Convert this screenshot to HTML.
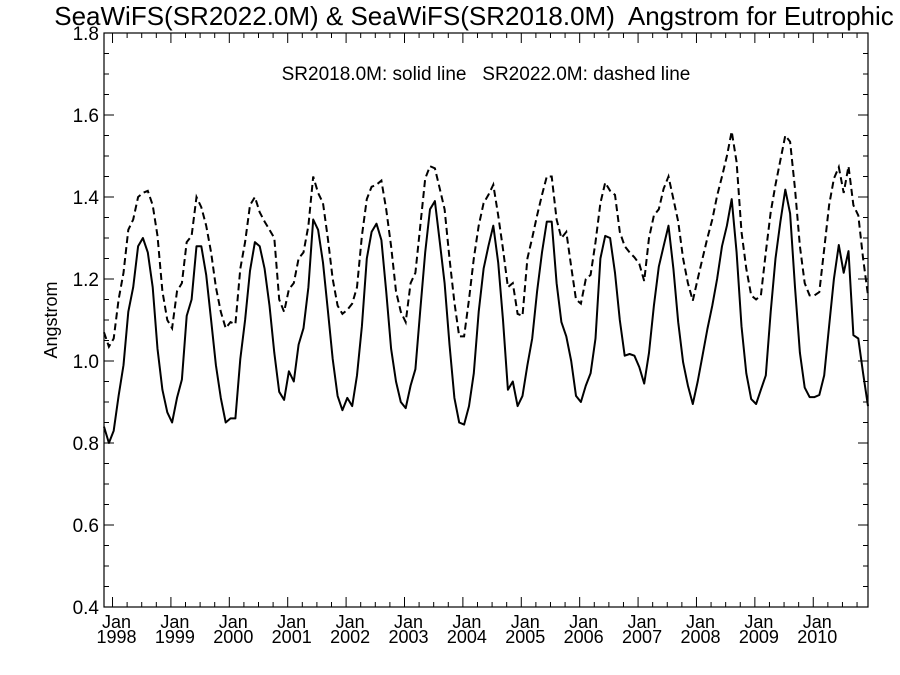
<!DOCTYPE html>
<html><head><meta charset="utf-8"><style>
html,body{margin:0;padding:0;background:#fff;}
svg{display:block;font-family:"Liberation Sans",Arial,sans-serif;}
text{white-space:pre;}
</style></head><body>
<svg id="chart" width="900" height="675" viewBox="0 0 900 675" xmlns="http://www.w3.org/2000/svg" xml:space="preserve">
<rect width="900" height="675" fill="#fff"/>
<text x="474" y="25" text-anchor="middle" font-size="26" xml:space="preserve">SeaWiFS(SR2022.0M) &amp; SeaWiFS(SR2018.0M)  Angstrom for Eutrophic</text>
<text x="486" y="80" text-anchor="middle" font-size="19" xml:space="preserve">SR2018.0M: solid line   SR2022.0M: dashed line</text>
<text x="0" y="0" transform="translate(57,320) rotate(-90)" text-anchor="middle" font-size="18">Angstrom</text>
<rect x="104" y="33" width="764" height="574" fill="none" stroke="#000" stroke-width="1.2"/>
<g id="axes"></g>
<g id="series"></g>
</svg>
<script>
const years = [1998,1999,2000,2001,2002,2003,2004,2005,2006,2007,2008,2009,2010];
const yTicks = [0.4,0.6,0.8,1.0,1.2,1.4,1.6,1.8];
const yTickLabels = ["0.4","0.6","0.8","1.0","1.2","1.4","1.6","1.8"];
const sr2018 = [0.84,0.80,0.83,0.915,0.99,1.12,1.18,1.28,1.30,1.265,1.18,1.03,0.93,0.875,0.85,0.91,0.955,1.11,1.15,1.28,1.28,1.21,1.10,0.99,0.91,0.85,0.86,0.86,1.005,1.10,1.22,1.29,1.28,1.225,1.135,1.02,0.925,0.905,0.975,0.95,1.04,1.08,1.18,1.345,1.32,1.24,1.125,1.005,0.915,0.88,0.91,0.89,0.965,1.085,1.25,1.315,1.335,1.295,1.17,1.03,0.95,0.90,0.885,0.94,0.98,1.125,1.265,1.37,1.39,1.29,1.19,1.04,0.91,0.85,0.845,0.89,0.97,1.12,1.225,1.28,1.33,1.24,1.10,0.93,0.95,0.89,0.915,0.99,1.055,1.17,1.265,1.34,1.34,1.19,1.095,1.06,1.0,0.915,0.90,0.94,0.97,1.055,1.25,1.305,1.30,1.215,1.10,1.013,1.017,1.013,0.985,0.945,1.02,1.135,1.23,1.28,1.33,1.225,1.095,0.997,0.94,0.895,0.95,1.013,1.078,1.135,1.20,1.28,1.33,1.395,1.265,1.085,0.97,0.907,0.895,0.93,0.965,1.12,1.25,1.34,1.418,1.36,1.18,1.02,0.935,0.912,0.912,0.917,0.965,1.085,1.20,1.283,1.215,1.268,1.063,1.055,0.97,0.89];
const sr2022 = [1.07,1.035,1.055,1.15,1.215,1.32,1.345,1.40,1.41,1.415,1.38,1.305,1.17,1.10,1.08,1.17,1.19,1.29,1.305,1.40,1.375,1.33,1.265,1.18,1.12,1.08,1.095,1.09,1.225,1.29,1.38,1.40,1.363,1.34,1.32,1.30,1.15,1.12,1.175,1.19,1.25,1.265,1.33,1.45,1.41,1.385,1.30,1.20,1.135,1.115,1.125,1.14,1.18,1.305,1.395,1.425,1.43,1.44,1.37,1.28,1.17,1.12,1.095,1.19,1.215,1.33,1.445,1.475,1.47,1.42,1.37,1.25,1.143,1.06,1.06,1.15,1.25,1.33,1.385,1.405,1.43,1.355,1.273,1.18,1.19,1.115,1.11,1.25,1.30,1.355,1.405,1.45,1.45,1.345,1.30,1.315,1.23,1.15,1.14,1.20,1.21,1.29,1.385,1.435,1.415,1.405,1.315,1.28,1.265,1.253,1.237,1.195,1.30,1.355,1.37,1.42,1.45,1.395,1.34,1.25,1.19,1.147,1.20,1.25,1.30,1.345,1.403,1.45,1.50,1.56,1.485,1.315,1.225,1.16,1.15,1.16,1.265,1.363,1.43,1.49,1.55,1.535,1.42,1.28,1.19,1.16,1.16,1.168,1.273,1.38,1.445,1.473,1.41,1.475,1.38,1.355,1.25,1.16];

const X0=104, X1=868, Y0=607, Y1=33;
const N = sr2018.length;
const firstJanIndex = 1.75;
function xScale(i){ return X0 + i*(X1-X0)/(N-1); }
function yScale(v){ return Y0 - (v-0.4)/(1.8-0.4)*(Y0-Y1); }
const NS="http://www.w3.org/2000/svg";
const axes=document.getElementById('axes'), series=document.getElementById('series');
function mk(tag,attrs,parent){const e=document.createElementNS(NS,tag);for(const k in attrs)e.setAttribute(k,attrs[k]);parent.appendChild(e);return e;}

for(let v=0.4; v<=1.8001; v+=0.05){
  const y=yScale(v); const major=Math.abs((v*5)-Math.round(v*5))<1e-6; const L=major?10:5;
  const t1=mk('line',{x1:X0,x2:X0+L,y1:y,y2:y,stroke:'#000','stroke-width':1},axes);
  
  
  const t2=mk('line',{x1:X1,x2:X1-L,y1:y,y2:y,stroke:'#000','stroke-width':1},axes);
  
  
}
yTicks.forEach((v,k)=>{
  const t=mk('text',{x:X0-5,y:yScale(v)+7,'text-anchor':'end','font-size':19},axes);
  t.textContent=yTickLabels[k];
  
  
});
years.forEach((yr,k)=>{
  for(let q=0;q<4;q++){
    const i=firstJanIndex+k*12+q*3; if(i>N-1) continue;
    const x=xScale(i); const L=q===0?10:5;
    const a=mk('line',{x1:x,x2:x,y1:Y0,y2:Y0-L,stroke:'#000','stroke-width':1},axes);
    
    
    const b=mk('line',{x1:x,x2:x,y1:Y1,y2:Y1+L,stroke:'#000','stroke-width':1},axes);
    
    
  }
  const x=xScale(firstJanIndex+k*12)+4;
  const t=mk('text',{x:x,y:628,'text-anchor':'middle','font-size':18},axes);
  t.textContent='Jan';
  
  
  const t2=mk('text',{x:x,y:643,'text-anchor':'middle','font-size':18},axes);
  t2.textContent=String(yr);
  
  
});
function pts(arr){return arr.map((v,i)=>xScale(i).toFixed(1)+','+yScale(v).toFixed(1)).join(' ');}
const s1=mk('polyline',{points:pts(sr2018),fill:'none',stroke:'#000','stroke-width':2,'stroke-linejoin':'round'},series);


const s2=mk('polyline',{points:pts(sr2022),fill:'none',stroke:'#000','stroke-width':2,'stroke-dasharray':'7,4'},series);


</script>
</body></html>
